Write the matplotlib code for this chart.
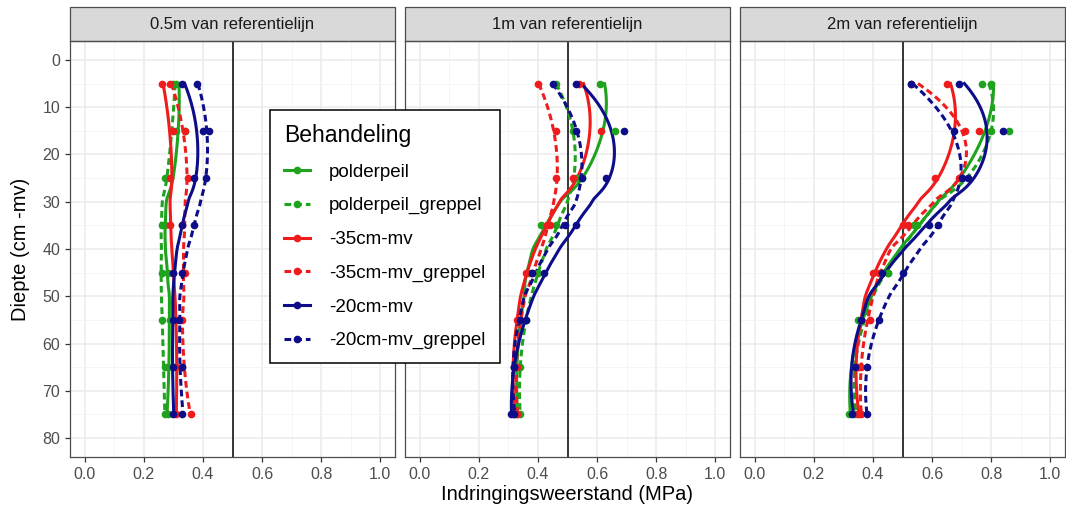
# Indringingsweerstand per diepte, drie afstanden tot referentielijn
import numpy as np
import matplotlib.pyplot as plt
from matplotlib.lines import Line2D
from matplotlib.patches import Rectangle

plt.rcParams['font.family'] = ['Liberation Sans', 'DejaVu Sans']

depth = np.array([5, 15, 25, 35, 45, 55, 65, 75])
panels = ['0.5m van referentielijn', '1m van referentielijn', '2m van referentielijn']
treatments = ['polderpeil', 'polderpeil_greppel', '-35cm-mv', '-35cm-mv_greppel',
              '-20cm-mv', '-20cm-mv_greppel']

# waarden per paneel, per behandeling (MPa)
vals_05m = [
    [0.31, 0.34, 0.29, 0.27, 0.28, 0.29, 0.28, 0.28],
    [0.30, 0.31, 0.27, 0.26, 0.26, 0.26, 0.27, 0.27],
    [0.26, 0.30, 0.29, 0.29, 0.30, 0.31, 0.31, 0.31],
    [0.29, 0.34, 0.35, 0.33, 0.34, 0.33, 0.33, 0.36],
    [0.33, 0.40, 0.37, 0.33, 0.30, 0.30, 0.30, 0.30],
    [0.38, 0.42, 0.41, 0.37, 0.33, 0.32, 0.33, 0.33],
]
vals_1m = [
    [0.61, 0.66, 0.55, 0.41, 0.37, 0.34, 0.33, 0.33],
    [0.46, 0.52, 0.53, 0.46, 0.40, 0.36, 0.34, 0.34],
    [0.54, 0.615, 0.52, 0.43, 0.36, 0.33, 0.32, 0.32],
    [0.40, 0.46, 0.46, 0.44, 0.38, 0.34, 0.33, 0.33],
    [0.53, 0.69, 0.63, 0.53, 0.42, 0.36, 0.32, 0.31],
    [0.45, 0.53, 0.55, 0.49, 0.38, 0.34, 0.32, 0.32],
]
vals_2m = [
    [0.80, 0.80, 0.70, 0.54, 0.45, 0.35, 0.34, 0.32],
    [0.77, 0.86, 0.70, 0.55, 0.45, 0.36, 0.35, 0.34],
    [0.65, 0.71, 0.61, 0.50, 0.40, 0.36, 0.35, 0.35],
    [0.53, 0.76, 0.69, 0.52, 0.42, 0.39, 0.36, 0.36],
    [0.69, 0.84, 0.72, 0.59, 0.43, 0.36, 0.34, 0.33],
    [0.53, 0.675, 0.70, 0.62, 0.50, 0.42, 0.38, 0.38],
]
all_vals = [vals_05m, vals_1m, vals_2m]

colors = ['#1fa31f', '#1fa31f', '#ee1c1c', '#ee1c1c', '#0d0d8a', '#0d0d8a']
styles = ['-', '--', '-', '--', '-', '--']


# loess zoals geom_smooth (span 0.75, graad 2)
def loess(x, y, xnew, span=0.75):
    n = len(x)
    q = int(np.floor(span * n))
    out = []
    for x0 in xnew:
        d = np.abs(x - x0)
        h = np.sort(d)[q - 1]
        w = np.clip(1 - (d / h) ** 3, 0, None) ** 3
        A = np.vstack([np.ones(n), x - x0, (x - x0) ** 2]).T
        sw = np.sqrt(w)
        coef = np.linalg.lstsq(A * sw[:, None], np.asarray(y) * sw, rcond=None)[0]
        out.append(coef[0])
    return np.array(out)


fig = plt.figure(figsize=(10.66, 5.15), dpi=100)
W, H = 1066, 515
lefts = [70, 405, 740]
pw, top, bottom = 325, 41, 457
strip_h = 34

dfine = np.linspace(5, 75, 200)
for p in range(3):
    ax = fig.add_axes([lefts[p] / W, (H - bottom) / H, pw / W, (bottom - top) / H])
    ax.set_xlim(-0.05, 1.05)
    ax.set_ylim(84, -4)
    ax.set_xticks(np.arange(0, 1.01, 0.2))
    ax.set_xticks(np.arange(0.1, 1.0, 0.2), minor=True)
    ax.set_yticks(np.arange(0, 81, 10))
    ax.set_yticks(np.arange(5, 80, 10), minor=True)
    ax.grid(which='major', color='#ebebeb', lw=1.1)
    ax.grid(which='minor', color='#f4f4f4', lw=0.6)
    ax.set_axisbelow(True)
    for s in ax.spines.values():
        s.set_color('#4d4d4d')
        s.set_linewidth(0.9)
    ax.tick_params(which='major', length=3.5, color='#333333', labelcolor='#4d4d4d',
                   labelsize=11.5, width=0.9)
    ax.tick_params(which='minor', length=0)
    ax.set_xticklabels(['0.0', '0.2', '0.4', '0.6', '0.8', '1.0'])
    if p > 0:
        ax.tick_params(axis='y', left=False, labelleft=False)

    ax.axvline(0.5, color='black', lw=1.1, zorder=2)

    for i in range(6):
        y = np.array(all_vals[p][i])
        ax.plot(loess(depth, y, dfine), dfine, color=colors[i], ls=styles[i], lw=2.2,
                dashes=(2.2, 1.3) if styles[i] == '--' else (None, None), zorder=3)
        ax.plot(y, depth, 'o', color=colors[i], ms=4.5, zorder=4)

    # strip
    ax.add_patch(Rectangle((0, 1), 1, strip_h / (bottom - top), transform=ax.transAxes,
                           facecolor='#d9d9d9', edgecolor='#4d4d4d', lw=0.9, clip_on=False))
    ax.text(0.5, 1 + strip_h / 2 / (bottom - top), panels[p], transform=ax.transAxes,
            ha='center', va='center', fontsize=12, color='#1a1a1a')

fig.text(20 / W, 1 - 249 / H, 'Diepte (cm -mv)', rotation=90, ha='center', va='center',
         fontsize=14.5)
fig.text(567 / W, 1 - 495 / H, 'Indringingsweerstand (MPa)', ha='center', va='center',
         fontsize=14.5)

# legenda
handles = [Line2D([0], [0], color=colors[i], ls=styles[i], lw=2.2, marker='o', ms=4.5,
                  dashes=(2.2, 1.3) if styles[i] == '--' else (None, None))
           for i in range(6)]
leg = fig.legend(handles, treatments, title='Behandeling', loc='upper left',
                 bbox_to_anchor=(270 / W, 1 - 110 / H), fontsize=13.5, title_fontsize=16.5,
                 frameon=True, fancybox=False, edgecolor='black', framealpha=1,
                 handlelength=1.4, labelspacing=0.88, borderpad=0.75, handletextpad=1.0,
                 borderaxespad=0)
leg.get_frame().set_linewidth(1.1)
leg._legend_box.align = 'left'

plt.savefig('out.png', dpi=100)
